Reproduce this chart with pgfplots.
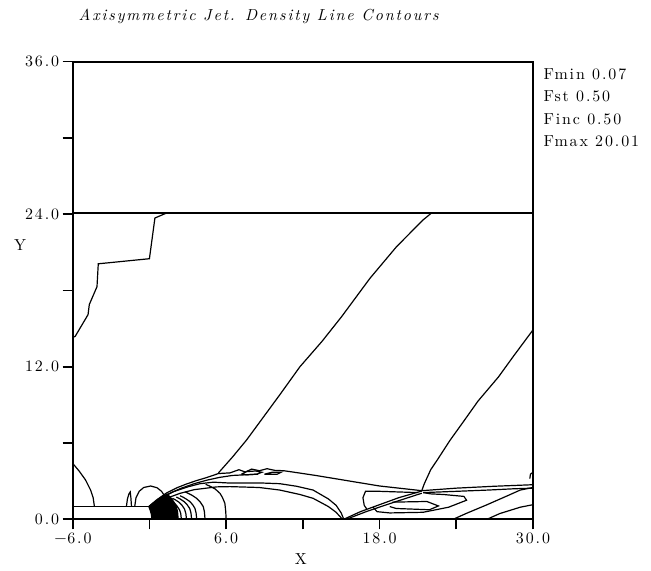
\documentclass[border=0pt]{standalone}
\usepackage{fontspec}
\setmainfont{lmroman10-regular.otf}[ItalicFont=lmroman10-italic.otf, BoldFont=lmroman10-bold.otf, LetterSpace=12]
\usepackage{pgfplots}
\pgfplotsset{compat=1.18}
\newcommand{\pf}{\fontsize{16}{18}\selectfont}
\begin{document}
\begin{tikzpicture}
\begin{axis}[name=ax, scale only axis, width=460.3bp, height=457.6bp,
  xmin=-6, xmax=30, ymin=0, ymax=36,
  axis line style={line width=1.8bp},
  xtick={-6,0,6,12,18,24,30}, xticklabels={$-$6.0,,6.0,,18.0,,30.0},
  ytick={0,6,12,18,24,30,36}, yticklabels={0.0,,12.0,,24.0,,36.0},
  xtick pos=bottom, ytick pos=left, tick align=outside, major tick length=10bp,
  tick style={line width=1.6bp, black},
  ticklabel style={font=\pf},
  every axis plot post/.append style={line width=1.2bp, black, solid, mark=none},
]
% horizontal contour at y=24
\addplot coordinates {(-6,24.1) (30,24.1)};
% left upper contour
\addplot coordinates {(-6,14.3) (-5.8,14.4) (-4.8,16.1) (-4.7,16.9) (-4.1,18.3) (-4.0,20.1) (0.0,20.5) (0.43,23.7) (1.35,24.1)};
% left lower contour
\addplot coordinates {(-6,4.4) (-5.5,3.8) (-5.0,3.1) (-4.6,2.3) (-4.4,1.7) (-4.3,1.0)};
% nozzle wall
\addplot coordinates {(-6,1.0) (-0.05,1.0)};
% small flame
\addplot coordinates {(-1.8,1.0) (-1.72,1.6) (-1.6,2.0) (-1.5,2.15) (-1.45,1.7) (-1.4,1.0)};
% dome
\addplot coordinates {(-1.15,1.0) (-1.05,1.7) (-0.8,2.2) (-0.45,2.5) (0.1,2.62) (0.6,2.48) (0.95,2.2) (1.15,1.9)};
% black core
\addplot[fill=black, draw=black] coordinates {(-0.05,1.0) (0.5,1.45) (1.0,1.8) (1.4,1.98) (1.75,1.6) (2.05,1.15) (2.2,0.6) (2.25,0) (0.2,0) (0.15,0.4) (0.05,0.75) (-0.05,1.0)};
\addplot[white, line width=0.6bp] coordinates {(1.25,0) (1.22,0.5) (1.05,0.95) (0.75,1.25)};
\addplot[white, line width=0.6bp] coordinates {(1.75,0) (1.7,0.6) (1.5,1.1) (1.15,1.5)};
% arcs
\addplot coordinates {(2.5,0) (2.45,0.45) (2.35,0.75) (2.15,1.05) (1.9,1.3) (1.6,1.5)};
\addplot coordinates {(2.9,0) (2.85,0.45) (2.75,0.8) (2.55,1.1) (2.3,1.35) (2.0,1.55) (1.8,1.65)};
\addplot coordinates {(3.3,0) (3.25,0.5) (3.15,0.85) (2.95,1.15) (2.7,1.4) (2.4,1.6) (2.1,1.75)};
\addplot coordinates {(3.7,0) (3.65,0.5) (3.56,0.86) (3.38,1.15) (3.17,1.39) (2.9,1.58) (2.65,1.73) (2.4,1.85)};
\addplot coordinates {(4.35,0) (4.3,0.6) (4.21,1.0) (3.98,1.35) (3.69,1.65) (3.35,1.88) (3.04,2.04) (2.8,2.15)};
\addplot coordinates {(6.0,0) (5.97,0.6) (5.9,1.26) (5.72,1.7) (5.52,2.04) (5.15,2.38) (4.74,2.6) (4.4,2.75)};
% shear layer lines
\addplot coordinates {(-0.05,1.0) (0.6,1.55) (1.35,2.08) (2.2,2.5) (2.91,2.78) (3.7,3.05) (4.47,3.28) (5.4,3.6) (6.3,3.65) (7.0,3.9) (7.5,3.72) (8.0,3.95) (8.6,3.82) (9.2,3.98) (9.8,3.85) (10.5,3.82) (11.0,3.75) (13.0,3.45) (15.4,3.05) (18.0,2.62) (21.3,2.25) (24,2.45) (27,2.6) (30,2.72)};
\addplot coordinates {(0.0,1.02) (0.8,1.6) (1.6,2.05) (2.5,2.45) (3.5,2.8) (4.5,3.08) (5.5,3.3) (6.5,3.45) (7.5,3.5) (8.5,3.55)};
\addplot coordinates {(7.2,3.55) (7.6,3.75) (8.3,3.8) (8.8,3.7) (8.4,3.55) (7.6,3.5) (7.2,3.55)};
\addplot coordinates {(9.0,3.55) (9.6,3.7) (10.3,3.7) (10.0,3.55) (9.0,3.55)};
\addplot coordinates {(0.1,1.05) (1.0,1.7) (1.87,2.17) (3.0,2.55) (3.95,2.8) (5.0,2.92) (6.3,2.85) (8.9,2.85) (10.2,2.8) (11.5,2.6) (12.8,2.3) (14.0,1.6) (14.6,1.1) (15.0,0.5) (15.2,0)};
\addplot coordinates {(0.2,1.0) (1.2,1.6) (2.39,2.04) (3.5,2.33) (5.26,2.55) (6.3,2.57) (8.6,2.5) (10.2,2.3) (11.77,1.95) (12.8,1.65) (14.0,1.0) (14.6,0.55) (15.1,0)};
% shocks
\addplot coordinates {(5.4,3.65) (6.5,4.9) (7.6,6.24) (10.2,9.8) (11.77,12.0) (13.5,14.0) (15.03,15.94) (17.25,18.96) (19.33,21.45) (21.4,23.55) (22.07,24.1)};
\addplot coordinates {(21.3,2.25) (21.5,2.8) (22.0,3.9) (22.6,4.8) (23.5,6.2) (24.5,7.6) (25.7,9.3) (27.3,11.2) (28.45,12.8) (30,14.9)};
% reflected shock
\addplot coordinates {(15.2,0) (16.5,0.6) (18,1.15) (19.5,1.7) (21.3,2.22)};
\addplot coordinates {(15.4,0) (17,0.62) (19,1.3) (21.3,2.05)};
% loops behind reflection
\addplot coordinates {(21.0,2.1) (19.5,2.15) (18.0,2.2) (16.9,2.2) (16.7,1.7) (16.8,1.1) (17.0,0.8)};
\addplot coordinates {(17.5,0.95) (17.8,0.6) (18.8,0.5) (21.4,0.55) (23.4,0.95) (24.8,1.5) (24.6,1.8) (23.0,1.95) (22.0,2.0) (21.4,2.1)};
\addplot coordinates {(19.0,1.35) (21.7,1.4) (22.6,1.05) (21.9,0.75) (19.3,0.85) (18.8,1.0)};
\addplot coordinates {(21.4,2.1) (24,2.2) (26.5,2.3) (28.5,2.4) (30,2.45)};
\addplot coordinates {(23.76,0) (24.8,0.47) (26.37,1.13) (28.0,1.85) (29.0,2.3) (30,2.5)};
\addplot coordinates {(26.4,0) (27.4,0.45) (29.0,0.95) (30,1.15)};
\addplot coordinates {(29.75,3.2) (29.8,3.55) (30,3.7)};
\end{axis}
\node[font=\pf\itshape, anchor=base west] at ([shift={(2.3bp,41bp)}]ax.north west) {Axisymmetric Jet. Density Line Contours};
\node[font=\pf, anchor=base west] at ([shift={(7bp,-17.6bp)}]ax.north east) {Fmin 0.07};
\node[font=\pf, anchor=base west] at ([shift={(7bp,-40.1bp)}]ax.north east) {Fst 0.50};
\node[font=\pf, anchor=base west] at ([shift={(7bp,-62.6bp)}]ax.north east) {Finc 0.50};
\node[font=\pf, anchor=base west] at ([shift={(7bp,-85.1bp)}]ax.north east) {Fmax 20.01};
\node[font=\pf] at ([shift={(-52.7bp,-183.3bp)}]ax.north west) {Y};
\node[font=\pf] at ([shift={(228.1bp,-39.7bp)}]ax.south west) {X};
\pgfresetboundingbox
\path ([shift={(-72.7bp,-51.7bp)}]ax.south west) rectangle ([shift={(118bp,61.7bp)}]ax.north east);
\end{tikzpicture}
\end{document}
